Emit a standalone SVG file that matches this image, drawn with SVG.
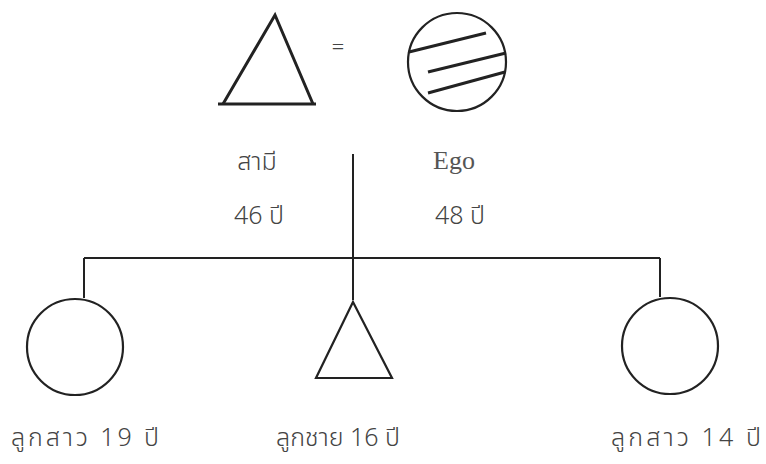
<svg xmlns="http://www.w3.org/2000/svg" width="766" height="464" viewBox="0 0 766 464">
<style>
.shape{fill:none;stroke:#222;stroke-width:2.2;stroke-linejoin:miter}
.thick{stroke-width:3}
.conn{fill:none;stroke:#222;stroke-width:2}
text{font-family:"Noto Sans Thai","Noto Serif Thai","Loma","Garuda","Liberation Serif",serif;fill:#444;font-size:25px;font-weight:300}
text.en{font-family:"Liberation Serif",serif;font-weight:400;font-size:26px;fill:#555}
text.eq{font-family:"Liberation Serif",serif;font-weight:400;font-size:22px;fill:#444}
</style>
<rect width="766" height="464" fill="#fff"/>
<g id="connectors">
<line class="conn" x1="353" y1="154" x2="353" y2="300"/>
<line class="conn" x1="84" y1="258" x2="660" y2="258"/>
<line class="conn" x1="84" y1="258" x2="84" y2="298"/>
<line class="conn" x1="660" y1="258" x2="660" y2="297"/>
</g>
<g id="husband">
<polyline class="shape thick" points="223,104 275,15 313,104"/>
<line class="shape thick" x1="218" y1="104" x2="316" y2="104"/>
<text x="257" y="170" text-anchor="middle">สามี</text>
<text x="259" y="224" text-anchor="middle">46 ปี</text>
</g>
<g id="equals">
<text x="338" y="54" text-anchor="middle" class="eq">=</text>
</g>
<g id="ego">
<circle class="shape" cx="457" cy="62" r="49"/>
<line class="shape thick" x1="409" y1="52" x2="486" y2="33"/>
<line class="shape thick" x1="428" y1="72" x2="506" y2="53"/>
<line class="shape thick" x1="428" y1="93" x2="505" y2="72"/>
<text x="454" y="169" text-anchor="middle" class="en">Ego</text>
<text x="460" y="224" text-anchor="middle">48 ปี</text>
</g>
<g id="daughter19">
<circle class="shape" cx="75" cy="347" r="48"/>
<text x="85" y="446" text-anchor="middle" textLength="148" lengthAdjust="spacing">ลูกสาว 19  ปี</text>
</g>
<g id="son16">
<polygon class="shape" points="353,302 392,378 316,378"/>
<text x="338" y="446" text-anchor="middle" textLength="124" lengthAdjust="spacing">ลูกชาย 16  ปี</text>
</g>
<g id="daughter14">
<circle class="shape" cx="670" cy="346" r="48"/>
<text x="686" y="446" text-anchor="middle" textLength="150" lengthAdjust="spacing">ลูกสาว  14 ปี</text>
</g>
</svg>
